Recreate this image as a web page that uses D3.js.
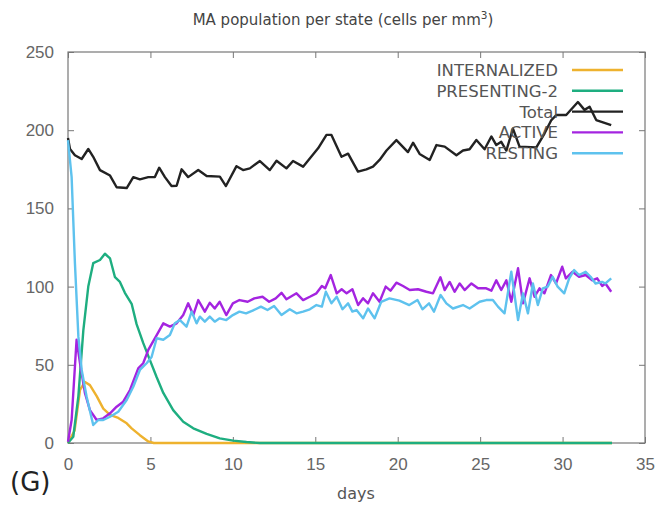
<!DOCTYPE html>
<html lang="en">
<head>
<meta charset="utf-8">
<title>MA population per state</title>
<script src="https://cdn.jsdelivr.net/npm/d3@7"></script>
<style>
  body { margin: 0; background: #fff; }
  svg { font-family: "DejaVu Sans", sans-serif; }
</style>
</head>
<body>
<script type="text/javascript">

var width = 671;
var height = 508;
var margin = {top: 52, right: 26, bottom: 65, left: 68};

// ticks
var xTicks = [0, 5, 10, 15, 20, 25, 30, 35];
var yTicks = [0, 50, 100, 150, 200, 250];

// series, [day, cells per mm3]
var internalized = [[0,0],[0.4,8],[0.73,34],[1.03,39],[1.33,37],[1.74,30],[2.14,22],[2.55,18],[3.05,16],[3.56,12.6],[3.86,9.4],[4.36,5],[4.87,1],[5.2,0],[33,0]];

var presenting2 = [[0,0],[0.32,4],[0.63,30],[0.93,72],[1.23,100],[1.53,115],[1.94,117],[2.24,121],[2.55,118],[2.85,106],[3.15,103],[3.45,96],[3.86,89],[4.16,76],[4.56,64],[4.97,53],[5.38,42],[5.78,32],[6.38,21],[6.99,13.6],[7.6,9.4],[8.41,5.8],[9.21,3],[10.02,1.5],[10.83,0.6],[11.64,0],[33,0]];

var total = [[0,195],[0.12,188],[0.42,184],[0.83,181.6],[1.23,188],[1.53,183],[1.94,174.5],[2.55,171],[2.95,163.5],[3.56,163],[3.96,170],[4.36,168.6],[4.87,170],[5.27,170],[5.53,176],[5.88,170],[6.28,164.3],[6.59,164.5],[6.89,175],[7.29,170],[7.9,174.5],[8.41,170.7],[9.21,170.3],[9.58,164.3],[10.22,177],[10.62,174.5],[11.03,175.6],[11.64,180.3],[12.24,174.5],[12.65,180.5],[13.25,175.6],[13.65,180.3],[14.26,176.7],[15.17,188.4],[15.68,197],[15.98,197],[16.59,183],[16.99,185],[17.59,173.5],[18.1,175],[18.5,176.7],[18.9,181],[19.32,187],[19.92,193.7],[20.62,186],[20.93,192],[21.33,184.8],[21.94,181],[22.35,190.5],[22.85,189.5],[23.56,184],[23.96,187],[24.36,187.8],[24.77,193.7],[25.27,187.8],[25.68,196],[25.98,190.5],[26.28,192.6],[26.59,187],[26.99,201],[27.39,189.5],[28.41,189],[28.91,198],[29.32,206.5],[29.62,209.7],[30.22,209.7],[30.93,218],[31.33,213],[31.64,215],[32.04,206.5],[32.95,203.3]];

var active = [[0,0.8],[0.22,14.7],[0.52,66],[0.73,51],[1.03,31.8],[1.33,21],[1.74,14.7],[2.14,15.8],[2.55,19],[2.95,23.2],[3.35,26.4],[3.76,33.9],[4.26,47.7],[4.56,51],[4.87,59.5],[5.38,69],[5.78,76.5],[6.18,74.4],[6.59,76.5],[6.99,81.8],[7.29,89.3],[7.6,81.8],[7.9,91.4],[8.3,84],[8.6,89.7],[8.9,86],[9.2,90.3],[9.6,81.8],[10.0,89.3],[10.4,91.4],[10.9,90.3],[11.3,92.5],[11.8,93.5],[12.2,90.3],[12.6,92.5],[12.95,96],[13.25,91.9],[13.86,95.7],[14.26,91.4],[14.67,93.5],[15.07,95.7],[15.4,100.4],[15.6,98.9],[15.94,107.4],[16.3,95.7],[16.6,98.3],[16.9,95.7],[17.25,98.3],[17.6,88.2],[17.9,92.5],[18.2,89.3],[18.5,95.7],[18.9,90.3],[19.27,100],[19.56,97.4],[19.92,102.5],[20.32,100.4],[20.73,97.8],[21.23,98.3],[21.74,96.7],[22.14,95.7],[22.59,106],[22.85,97.8],[23.15,103],[23.45,96.7],[23.76,102],[24.06,97.8],[24.47,102],[24.87,98.9],[25.37,98.9],[25.68,97.4],[25.98,104],[26.28,97.8],[26.59,104],[26.89,90.3],[27.3,111.7],[27.6,89.3],[28.0,105.3],[28.3,93.5],[28.6,98.9],[28.9,95.7],[29.3,107.4],[29.6,102],[29.98,112.7],[30.2,105.3],[30.6,109.5],[31.0,106.3],[31.4,107.4],[31.8,104],[32.1,105.3],[32.4,100.4],[32.6,102],[32.95,96.7]];

var resting = [[0,193.7],[0.22,170],[0.42,115],[0.63,68],[0.83,46.7],[1.13,29.6],[1.53,11.5],[1.84,14.7],[2.14,14.7],[2.55,16.8],[3.05,20],[3.56,27.5],[3.96,36],[4.36,46.7],[4.77,51],[5.07,55],[5.38,67],[5.78,66],[6.18,69],[6.48,76.5],[6.79,78.6],[7.19,74.4],[7.5,84],[7.8,76.5],[8.0,80.8],[8.3,77.6],[8.6,80.8],[8.9,77.6],[9.2,79.7],[9.6,78.6],[10.0,81.8],[10.4,84],[10.8,82.9],[11.2,84.6],[11.7,87.2],[12.1,85],[12.5,87.6],[12.95,81.8],[13.45,85.5],[13.86,82.9],[14.26,84],[14.67,85.5],[15.07,88.2],[15.4,87.2],[15.64,96.7],[15.98,89.3],[16.3,93.5],[16.65,85.5],[16.99,89.3],[17.25,84],[17.5,85],[17.9,79.7],[18.2,86],[18.6,79.7],[19.0,90.3],[19.5,92.5],[20.1,91],[20.7,88.2],[21.2,91.4],[21.5,85.5],[21.9,89.3],[22.2,84],[22.6,94.6],[22.95,89.3],[23.35,86],[23.96,88.2],[24.36,86],[24.97,90.3],[25.37,91.4],[25.77,91.4],[26.08,87.2],[26.48,82.9],[26.89,109.5],[27.3,78.6],[27.6,95.7],[27.9,82.9],[28.2,102],[28.5,88.2],[28.8,98.9],[29.1,100],[29.4,106.3],[29.7,100],[30.1,95.7],[30.4,105.3],[30.7,110.6],[31.0,107.4],[31.4,109.5],[31.7,106.3],[32.0,102],[32.4,103],[32.6,102],[32.95,105.3]];

var seriesNames = ["INTERNALIZED", "PRESENTING-2", "Total", "ACTIVE", "RESTING"];
var seriesData = [internalized, presenting2, total, active, resting];
var seriesColors = ["#eeb22e", "#1eae80", "#222222", "#a424e0", "#5ec2ee"];

var svg = d3.select("body").append("svg")
            .attr("width", width)
            .attr("height", height);

var x = d3.scaleLinear().domain([0, 35]).range([margin.left, width - margin.right]);
var y = d3.scaleLinear().domain([0, 250]).range([height - margin.bottom, margin.top]);

var axisColor = "#777";
var labelColor = "#666";

function styleAxis(g, showText) {
    g.select(".domain").remove();
    g.selectAll(".tick line").attr("stroke", axisColor).attr("stroke-width", 1);
    g.selectAll(".tick text")
        .attr("fill", labelColor)
        .style("font-size", "17px")
        .style("display", showText ? null : "none");
}

svg.append("g")
    .attr("transform", `translate(0,${y(0)})`)
    .call(d3.axisBottom(x).tickValues(xTicks).tickSize(-6).tickPadding(15))
    .call(g => styleAxis(g, true));

svg.append("g")
    .attr("transform", `translate(0,${y(250)})`)
    .call(d3.axisTop(x).tickValues(xTicks).tickSize(-6))
    .call(g => styleAxis(g, false));

svg.append("g")
    .attr("transform", `translate(${x(0)},0)`)
    .call(d3.axisLeft(y).tickValues(yTicks).tickSize(-6).tickPadding(14))
    .call(g => styleAxis(g, true));

svg.append("g")
    .attr("transform", `translate(${x(35)},0)`)
    .call(d3.axisRight(y).tickValues(yTicks).tickSize(-6))
    .call(g => styleAxis(g, false));

// frame
svg.append("rect")
    .attr("x", x(0))
    .attr("y", y(250))
    .attr("width", x(35) - x(0))
    .attr("height", y(0) - y(250))
    .attr("fill", "none")
    .attr("stroke", axisColor)
    .attr("stroke-width", 1.2);

var line = d3.line()
    .x(d => x(d[0]))
    .y(d => y(d[1]));

svg.selectAll("path.series")
    .data(seriesData)
    .enter()
    .append("path")
    .attr("class", "series")
    .attr("d", line)
    .attr("fill", "none")
    .attr("stroke", (d, i) => seriesColors[i])
    .attr("stroke-width", 2.4)
    .attr("stroke-linejoin", "round");

// legend
var legend = svg.append("g").attr("class", "legend");
seriesNames.forEach((name, i) => {
    var ly = 70 + i * 20.8;
    legend.append("text")
        .attr("x", 558)
        .attr("y", ly)
        .attr("dy", "0.36em")
        .attr("text-anchor", "end")
        .attr("fill", "#555")
        .style("font-size", "16.5px")
        .text(name);
    legend.append("line")
        .attr("x1", 572)
        .attr("x2", 623)
        .attr("y1", ly)
        .attr("y2", ly)
        .attr("stroke", seriesColors[i])
        .attr("stroke-width", 2.4);
});

// titles
var title = svg.append("text")
    .attr("x", 343)
    .attr("y", 25)
    .attr("text-anchor", "middle")
    .attr("fill", "#444")
    .style("font-size", "15px");
title.append("tspan").text("MA population per state (cells per mm");
title.append("tspan").attr("dy", "-6").style("font-size", "10.5px").text("3");
title.append("tspan").attr("dy", "6").text(")");

svg.append("text")
    .attr("x", 356)
    .attr("y", 499)
    .attr("text-anchor", "middle")
    .attr("fill", "#555")
    .style("font-size", "16px")
    .text("days");

svg.append("text")
    .attr("x", 10)
    .attr("y", 491)
    .attr("fill", "#222")
    .style("font-size", "26px")
    .text("(G)");

</script>
</body>
</html>
